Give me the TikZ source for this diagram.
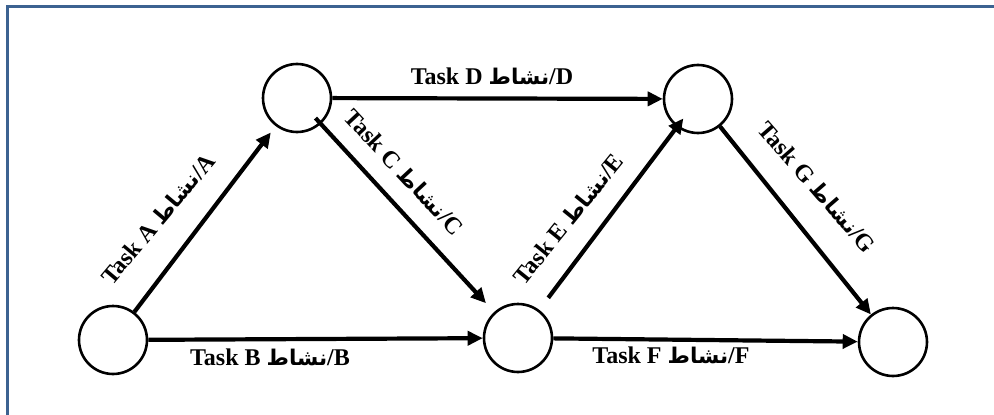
\documentclass[tikz,border=0pt]{standalone}
\usepackage{fontspec}
\setmainfont{Liberation Serif}
\newfontfamily\arabicfont[Script=Arabic,Scale=0.9]{DejaVu Sans}
\TeXXeTstate=1
\usetikzlibrary{arrows.meta}
\definecolor{framecol}{RGB}{60,98,145}
\newcommand{\ar}[1]{{\arabicfont\beginR #1\endR}}
\tikzset{
  evt/.style={circle, draw=black, line width=2.6pt, minimum size=68pt, inner sep=0pt, fill=white},
  act/.style={line width=4.2pt, -{Triangle[length=15pt,width=14pt]}},
  lbl/.style={font=\fontsize{24}{26}\selectfont\bfseries, inner sep=0pt},
  frameline/.style={draw=framecol, line width=3pt}
}
\begin{document}
\begin{tikzpicture}[x=1pt, y=-1pt]
\useasboundingbox (0,0) rectangle (994,415);
\fill[white] (0,0) rectangle (994,415);
\draw[frameline] (7,420) -- (7,6) -- (1000,6);
% events
\node[evt] (n1) at (113,340) {};
\node[evt] (n2) at (297,98) {};
\node[evt] (n3) at (518,338) {};
\node[evt] (n4) at (698,99) {};
\node[evt] (n5) at (893,342) {};
% activities
\draw[act, shorten >=8pt] (n1) -- (n2);
\draw[act] (n1) -- (n3);
\draw[act, shorten <=-8pt, shorten >=12pt] (n2) -- (n3);
\draw[act] (n2) -- (n4);
\draw[act, shorten <=15pt, shorten >=-11pt] (n3) -- (n4);
\draw[act] (n3) -- (n5);
\draw[act] (n4) -- (n5);
% labels
\node[lbl] (la) at (158,219) [rotate=50] {Task A \ar{نشاط}/A};
\node[lbl] (lb) at (270,357) {Task B \ar{نشاط}/B};
\node[lbl] (lc) at (404,172) [rotate=-47] {Task C \ar{نشاط}/C};
\node[lbl] (ld) at (492,76) {Task D \ar{نشاط}/D};
\node[lbl] (le) at (568,219) [rotate=51] {Task E \ar{نشاط}/E};
\node[lbl] (lf) at (671,355) {Task F \ar{نشاط}/F};
\node[lbl] (lg) at (817,187) [rotate=-49] {Task G \ar{نشاط}/G};
\end{tikzpicture}
\end{document}
